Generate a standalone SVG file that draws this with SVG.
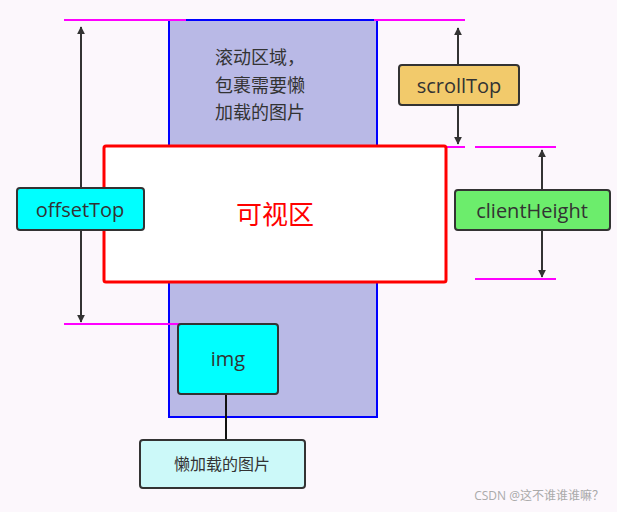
<svg xmlns="http://www.w3.org/2000/svg" width="617" height="512" viewBox="0 0 617 512">
<defs>
<marker id="ar" viewBox="0 0 10 10" refX="9" refY="5" markerWidth="8" markerHeight="10" orient="auto-start-reverse" markerUnits="userSpaceOnUse"><path d="M0,0 L10,5 L0,10 z" fill="#333"/></marker>
</defs>
<style>
text{font-family:"Open Sans","Noto Sans","Noto Sans CJK SC",sans-serif;fill:#333}
.box{stroke:#333;stroke-width:2}
.mg{stroke:#f0f;stroke-width:2}
.ar{stroke:#333;stroke-width:2;marker-start:url(#ar);marker-end:url(#ar)}
</style>
<rect width="617" height="512" fill="#fcf7fc"/>
<g id="scroll"><rect x="169" y="20" width="208" height="397" fill="#b9b9e6" stroke="#00f" stroke-width="2"/>
<text x="215" y="64" font-size="18" fill="#444">滚动区域，</text><text x="215" y="92" font-size="18">包裹需要懒</text><text x="215" y="119" font-size="18">加载的图片</text></g>
<g id="connectors">
<line class="mg" x1="64" y1="20" x2="186" y2="20"/><line class="mg" x1="374" y1="20" x2="465" y2="20"/>
<line class="mg" x1="374" y1="147" x2="465" y2="147"/><line class="mg" x1="475" y1="147" x2="556" y2="147"/>
<line class="mg" x1="475" y1="279" x2="556" y2="279"/><line class="mg" x1="64" y1="324" x2="186" y2="324"/>
<line class="ar" x1="81" y1="27" x2="81" y2="322"/>
<line class="ar" x1="458" y1="28" x2="458" y2="144"/>
<line class="ar" x1="542" y1="150" x2="542" y2="277"/>
<line x1="226" y1="394" x2="226" y2="440" stroke="#111" stroke-width="2"/>
</g>
<g id="view"><rect x="104" y="146" width="342" height="136" rx="2" fill="#fff" stroke="#f00" stroke-width="3"/>
<text x="275" y="224" font-size="26" text-anchor="middle" style="fill:#f00">可视区</text></g>
<g id="offsetTop"><rect class="box" x="17" y="188" width="127" height="42" rx="3" fill="#0ff"/><text x="80" y="217" font-size="20" text-anchor="middle">offsetTop</text></g>
<g id="scrollTop"><rect class="box" x="399" y="65" width="120" height="40" rx="3" fill="#f2ca6b"/><text x="459" y="93" font-size="20" text-anchor="middle">scrollTop</text></g>
<g id="clientHeight"><rect class="box" x="455" y="190" width="155" height="40" rx="3" fill="#6ced6c"/><text x="532" y="218" font-size="20" text-anchor="middle">clientHeight</text></g>
<g id="img"><rect class="box" x="178" y="324" width="100" height="70" rx="3" fill="#0ff"/><text x="228" y="366" font-size="20" text-anchor="middle">img</text></g>
<g id="lazy"><rect class="box" x="140" y="440" width="165" height="48" rx="3" fill="#ccf9f9"/><text x="222" y="470" font-size="16" text-anchor="middle">懒加载的图片</text></g>
<text x="604" y="500" font-size="12" text-anchor="end" style="fill:#aaa">CSDN @这不谁谁谁嘛？</text>
</svg>
